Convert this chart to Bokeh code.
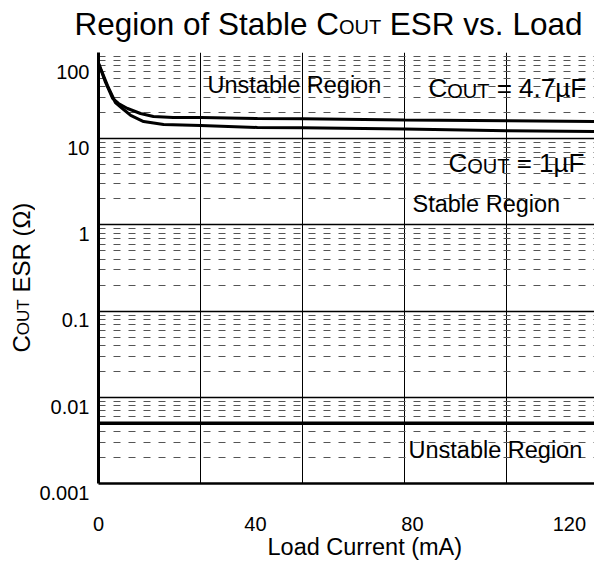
from bokeh.plotting import figure
from bokeh.layouts import column, row
from bokeh.models import Range1d, FixedTicker, CustomJSTickFormatter, Label, Span
from bokeh.embed import file_html
from bokeh.resources import INLINE

# ---------------- data ----------------
load_upper = [0, 1.8, 3.6, 5.1, 7.4, 10.7, 14, 19, 26, 40.5, 52, 78, 104, 130]
esr_upper = [75, 44.9, 29.3, 25.6, 22.4, 19.6, 18.1, 17.6, 17.6, 17.1, 17.0, 16.5, 16.2, 15.8]
load_lower = [0, 2.3, 4.3, 6.1, 8.2, 11.5, 16.6, 26, 40.5, 52, 78, 104, 130]
esr_lower = [75, 41.4, 26.3, 22.4, 18.6, 15.8, 14.6, 14.2, 13.5, 13.4, 13.0, 12.4, 12.1]
esr_floor = 0.005
x_ticks = [0, 40, 80, 120]
x_grid = [26, 52, 78, 104]
y_ticks = [0.001, 0.01, 0.1, 1, 10, 100]
x_max = 126.4

FONT = "Liberation Sans"
NB = "\u00a0"
SHIFT = 0.36  # empirical baseline correction (fraction of font size)

# Arial / Liberation Sans advance widths (1/1000 em)
W = {' ': 278, NB: 278, '(': 333, ')': 333, '.': 278, '=': 584, 'A': 667, 'C': 722,
     'E': 667, 'F': 611, 'L': 556, 'O': 778, 'R': 722, 'S': 667, 'T': 611, 'U': 722,
     'a': 556, 'b': 556, 'd': 556, 'e': 556, 'f': 278, 'g': 556, 'i': 222, 'l': 222,
     'm': 833, 'n': 556, 'o': 556, 'r': 333, 's': 500, 't': 278, 'u': 556, 'v': 500,
     '\u00b5': 576, '\u03a9': 768}


def tw(s, size):
    return sum(W.get(c, 556) for c in s) / 1000.0 * size


def blank(w, h):
    f = figure(width=w, height=h, x_range=Range1d(0, 1), y_range=Range1d(0, 1),
               output_backend="svg", toolbar_location=None,
               x_axis_location=None, y_axis_location=None,
               min_border=0, min_border_left=0, min_border_right=0,
               min_border_top=0, min_border_bottom=0)
    f.outline_line_color = None
    f.grid.visible = False
    f.background_fill_color = "white"
    f.border_fill_color = "white"
    return f


def place(fig, ox, oy, parts, px, py, angle=0.0, bg=False, pad=5):
    """parts: list of (text, size, drop); (px, py): pixel of the baseline start;
    (ox, oy): pixel of the figure frame's bottom-left corner."""
    base = parts[0][1] * SHIFT
    if angle == 0:
        py = py - base
    else:
        px = px - base
    sx, sy = px - ox, oy - py
    adv = 0.0
    specs = []
    for text, size, drop in parts:
        if angle == 0:
            xo, yo = adv, -drop
        else:
            xo, yo = drop, adv
        specs.append((text, size, xo, yo))
        adv += tw(text, size)
    if bg:
        for text, size, xo, yo in specs:
            fig.add_layout(Label(x=sx, y=sy, x_units="screen", y_units="screen", x_offset=xo,
                                 y_offset=yo, text=text, text_font=FONT,
                                 text_font_size=f"{size}px", text_alpha=0,
                                 text_baseline="alphabetic", text_align="left",
                                 background_fill_color="white", padding=pad, angle=angle))
    for text, size, xo, yo in specs:
        fig.add_layout(Label(x=sx, y=sy, x_units="screen", y_units="screen", x_offset=xo,
                             y_offset=yo, text=text, text_font=FONT,
                             text_font_size=f"{size}px", text_color="black",
                             text_baseline="alphabetic", text_align="left", angle=angle))


TH = 42   # title strip height
XH = 25   # x-title strip height
YW = 35   # y-title strip width
FX, FY = 98, 483  # main frame bottom-left corner in picture pixels

# ---------------- main chart ----------------
p = figure(width=594 - YW, height=560 - TH - XH, x_range=Range1d(0, x_max),
           y_range=Range1d(0.001, 100), y_axis_type="log", output_backend="svg",
           toolbar_location=None, min_border_left=FX - YW, min_border_right=0,
           min_border_top=52 - TH, min_border_bottom=560 - XH - FY)
p.outline_line_color = None
p.background_fill_color = "white"
p.border_fill_color = "white"

for ax in (p.xaxis, p.yaxis):
    ax.major_tick_line_color = None
    ax.minor_tick_line_color = None
    ax.axis_line_color = "black"
    ax.major_label_text_font = FONT
    ax.major_label_text_font_size = "20px"
    ax.major_label_text_color = "black"
p.xaxis.axis_line_width = 2.5
p.yaxis.axis_line_width = 3
p.yaxis.major_tick_out = 0
p.yaxis.major_tick_in = 0
p.yaxis.minor_tick_out = 0
p.yaxis.minor_tick_in = 0
p.xaxis.ticker = FixedTicker(ticks=x_ticks)
p.xaxis.major_label_standoff = 27
p.yaxis.ticker = FixedTicker(ticks=y_ticks)
# labels sit a little below their grid line, as in the reference
p.yaxis.formatter = CustomJSTickFormatter(code="return '\\n' + tick.toString()")
p.yaxis.major_label_text_line_height = 0.85
p.yaxis.major_label_standoff = 9

p.xgrid.ticker = FixedTicker(ticks=x_grid)
p.xgrid.grid_line_color = "black"
p.xgrid.grid_line_width = 1
minors = [d * k for d in y_ticks[:-1] for k in range(2, 10)]
p.ygrid.ticker = FixedTicker(ticks=y_ticks, minor_ticks=minors)
p.ygrid.grid_line_color = "black"
p.ygrid.grid_line_width = 1.5
p.ygrid.minor_grid_line_color = "#555555"
p.ygrid.minor_grid_line_width = 1
p.ygrid.minor_grid_line_dash = "7 8"

p.line(load_upper, esr_upper, line_color="black", line_width=3)
p.line(load_lower, esr_lower, line_color="black", line_width=3)
p.add_layout(Span(location=esr_floor, dimension="width", line_color="black", line_width=3.5))

R = 23.5
C = 26
place(p, FX, FY, [("Unstable Region", R, 0)], 207, 93, bg=True, pad=8)
place(p, FX, FY, [("C", C, 0), ("OUT", round(C * 0.75), 3), (NB + "= 4.7\u00b5F", C, 0)],
      428, 97, bg=True, pad=8)
place(p, FX, FY, [("C", C, 0), ("OUT", round(C * 0.75), 3), (NB + "= 1\u00b5F", C, 0)],
      448, 172, bg=True, pad=8)
place(p, FX, FY, [("Stable Region", R, 0)], 412, 212, bg=True, pad=8)
place(p, FX, FY, [("Unstable Region", R, 0)], 408, 458, bg=True, pad=8)

# ---------------- title strip ----------------
tfig = blank(594, TH)
T = 31.5
place(tfig, 0, TH, [("Region of Stable C", T, 0), ("OUT", round(T * 0.62), 3),
                    (NB + "ESR vs. Load", T, 0)], 74, 35)

# ---------------- y-axis title strip (its frame is aligned with the main frame) ----------------
yfig = blank(YW, 560 - TH - XH)
Y = 24
place(yfig, 0, FY, [("C", Y, 0), ("OUT", round(Y * 0.7), 2), (NB + "ESR (\u03a9)", Y, 0)],
      30, 352, angle=1.5708)

# ---------------- x-axis title strip ----------------
xfig = blank(594, XH)
place(xfig, 0, 560, [("Load Current (mA)", 23.5, 0)], 267, 555)

layout = column(tfig, row(yfig, p, spacing=0), xfig, spacing=0)

open("out.html", "w").write(file_html(layout, INLINE))
